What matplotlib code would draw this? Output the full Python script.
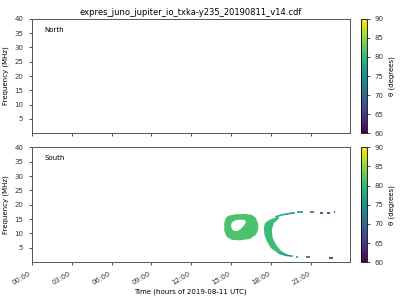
import numpy as np
import matplotlib
matplotlib.use("Agg")
import matplotlib.pyplot as plt
from matplotlib.path import Path
from matplotlib.patches import PathPatch, Polygon
from matplotlib.collections import LineCollection
from matplotlib.colors import Normalize
from matplotlib.cm import ScalarMappable

title = "expres_juno_jupiter_io_txka-y235_20190811_v14.cdf"
hemispheres = ["North", "South"]
xtick_hours = [0, 3, 6, 9, 12, 15, 18, 21]
xtick_labels = ["00:00", "03:00", "06:00", "09:00", "12:00", "15:00", "18:00", "21:00"]
yticks = [5, 10, 15, 20, 25, 30, 35, 40]
cbar_ticks = [60, 65, 70, 75, 80, 85, 90]

# South emission: closed loop (hours, MHz) with a hole
loop_outer_t = [14.74, 15.26, 16.00, 16.53, 16.83, 17.01, 17.01, 16.83, 16.38, 15.63, 15.03, 14.65, 14.46, 14.46, 14.58]
loop_outer_f = [16.1, 16.65, 16.8, 16.5, 15.4, 13.3, 11.3, 9.5, 8.1, 7.6, 7.8, 8.8, 10.9, 13.7, 15.4]
loop_hole_t = [15.03, 15.33, 15.70, 16.04, 16.08, 15.93, 15.66, 15.40, 15.17, 15.03, 14.97]
loop_hole_f = [13.87, 14.63, 14.84, 14.63, 13.87, 12.65, 11.44, 10.82, 10.91, 11.61, 12.83]
loop_theta = 81.5

# South emission: crescent arc
arc_outer_t = [18.48, 17.85, 17.52, 17.43, 17.48, 17.67, 17.97, 18.48, 19.10]
arc_outer_f = [15.88, 14.74, 13.59, 11.85, 9.52, 7.19, 4.90, 3.16, 2.33]
arc_inner_t = [19.23, 18.72, 18.35, 18.10, 18.03, 18.18, 18.60]
arc_inner_f = [2.57, 3.96, 6.05, 8.38, 11.26, 13.59, 15.33]
arc_theta = 80.5

# thin tails of the arc
top_tail_t = [18.3, 18.8, 19.3, 19.75]
top_tail_f = [15.8, 16.5, 16.9, 17.2]
top_tail_theta = [78.5, 77.0, 75.5]
bot_tail_t = [18.55, 19.05, 19.6]
bot_tail_f = [3.2, 2.45, 2.1]
bot_tail_theta = [77.5, 75.5]

# isolated dashes: start hour, end hour, frequency, theta
dash_t0 = [19.92, 20.88, 21.63, 22.15, 22.72, 19.83, 20.60, 22.30]
dash_t1 = [20.35, 21.18, 21.85, 22.38, 22.80, 19.98, 20.90, 22.60]
dash_f = [17.6, 17.6, 17.3, 17.3, 17.5, 1.9, 1.8, 1.4]
dash_theta = [73.5, 66.0, 61.5, 61.0, 61.0, 74.0, 66.0, 61.0]

cmap = plt.get_cmap("viridis")
norm = Normalize(vmin=60, vmax=90)

fig = plt.figure(figsize=(4, 3), dpi=100)
ax1 = fig.add_axes([0.079, 0.556, 0.796, 0.381])
ax2 = fig.add_axes([0.079, 0.126, 0.796, 0.383], sharex=ax1)
cax1 = fig.add_axes([0.902, 0.556, 0.015, 0.381])
cax2 = fig.add_axes([0.902, 0.126, 0.015, 0.383])

for ax, name in zip([ax1, ax2], hemispheres):
    ax.set_xlim(0, 23.9)
    ax.set_ylim(0, 40)
    ax.set_yticks(yticks)
    ax.set_ylabel("Frequency (MHz)", fontsize=5)
    ax.tick_params(labelsize=5, length=2.5, width=0.6, colors="#333333")
    for s in ax.spines.values():
        s.set_linewidth(0.7)
        s.set_color("#555555")
    ax.text(0.04, 0.905, name, transform=ax.transAxes, fontsize=5, va="center", ha="left")

ax1.set_title(title, fontsize=6, pad=3)
ax2.set_xticks(xtick_hours)
ax2.set_xticklabels(xtick_labels, rotation=30, ha="right")
plt.setp(ax1.get_xticklabels(), visible=False)
ax2.set_xlabel("Time (hours of 2019-08-11 UTC)", fontsize=5, labelpad=2)

# loop with hole
outer = list(zip(loop_outer_t, loop_outer_f))
hole = list(zip(loop_hole_t, loop_hole_f))[::-1]
verts = outer + [outer[0]] + hole + [hole[0]]
codes = ([Path.MOVETO] + [Path.LINETO] * (len(outer) - 1) + [Path.CLOSEPOLY] +
         [Path.MOVETO] + [Path.LINETO] * (len(hole) - 1) + [Path.CLOSEPOLY])
ax2.add_patch(PathPatch(Path(verts, codes), facecolor=cmap(norm(loop_theta)), edgecolor="none"))

# crescent
arc_pts = list(zip(arc_outer_t + arc_inner_t, arc_outer_f + arc_inner_f))
ax2.add_patch(Polygon(arc_pts, closed=True, facecolor=cmap(norm(arc_theta)), edgecolor="none"))

# tails
for tt, ff, th, lw in [(top_tail_t, top_tail_f, top_tail_theta, 1.2), (bot_tail_t, bot_tail_f, bot_tail_theta, 1.2)]:
    segs = [[(tt[i], ff[i]), (tt[i + 1], ff[i + 1])] for i in range(len(tt) - 1)]
    lc = LineCollection(segs, cmap=cmap, norm=norm, linewidths=lw)
    lc.set_array(np.array(th))
    ax2.add_collection(lc)

# dashes
dsegs = [[(a, f), (b, f)] for a, b, f in zip(dash_t0, dash_t1, dash_f)]
dl = LineCollection(dsegs, cmap=cmap, norm=norm, linewidths=1.1)
dl.set_array(np.array(dash_theta))
ax2.add_collection(dl)

sm = ScalarMappable(norm=norm, cmap=cmap)
for cax in [cax1, cax2]:
    cb = fig.colorbar(sm, cax=cax, ticks=cbar_ticks)
    cb.set_label("θ (degrees)", fontsize=5)
    cb.ax.tick_params(labelsize=5, length=2, width=0.6, colors="#333333")
    cb.outline.set_linewidth(0.6)

fig.savefig("out.png", dpi=100)
